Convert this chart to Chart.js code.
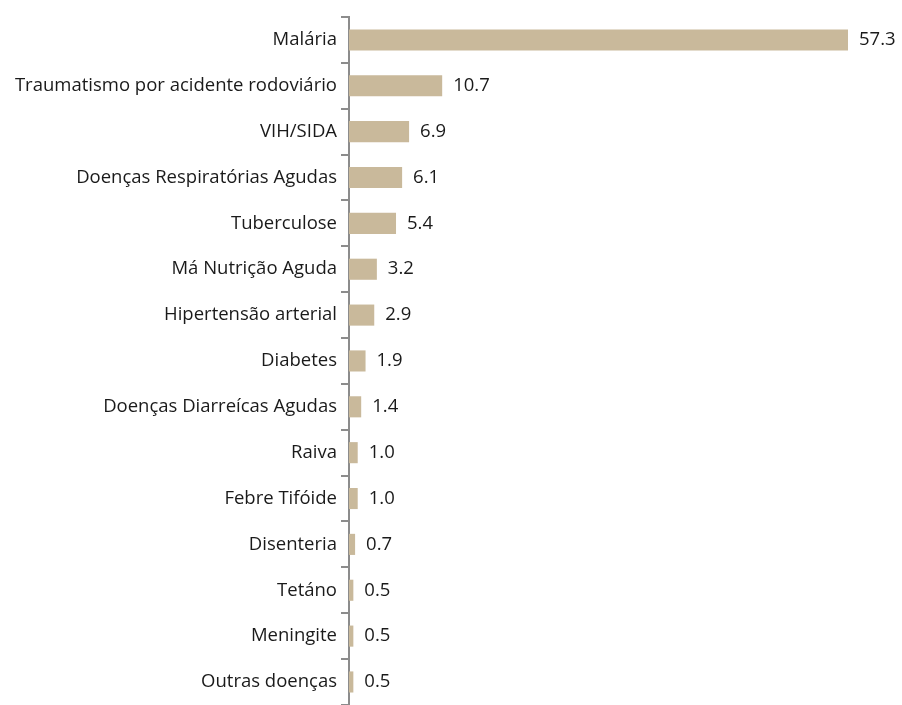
<!DOCTYPE html>
<html lang="pt">
<head>
    <meta charset="UTF-8">
    <title>Causas de morte</title>
    <script src="https://cdn.jsdelivr.net/npm/chart.js"></script>
    <style>
        html, body { margin: 0; padding: 0; background: #fff; overflow: hidden; }
        #wrap { width: 902px; height: 720px; }
    </style>
</head>
<body>
<div id="wrap"><canvas id="chart"></canvas></div>

<script>
    // values
    const causes = [
        "Malária", "Traumatismo por acidente rodoviário", "VIH/SIDA",
        "Doenças Respiratórias Agudas", "Tuberculose", "Má Nutrição Aguda",
        "Hipertensão arterial", "Diabetes", "Doenças Diarreícas Agudas",
        "Raiva", "Febre Tifóide", "Disenteria", "Tetáno", "Meningite", "Outras doenças"
    ];
    const percent = [57.3, 10.7, 6.9, 6.1, 5.4, 3.2, 2.9, 1.9, 1.4, 1.0, 1.0, 0.7, 0.5, 0.5, 0.5];

    const textFont = { family: "'Open Sans', sans-serif", size: 18.5 };

    // value labels at the end of each bar
    const valueLabels = {
        id: "valueLabels",
        afterDatasetsDraw(chart) {
            const ctx = chart.ctx;
            const meta = chart.getDatasetMeta(0);
            ctx.save();
            ctx.font = textFont.size + "px " + textFont.family;
            ctx.fillStyle = "#1a1a1a";
            ctx.textAlign = "left";
            ctx.textBaseline = "middle";
            meta.data.forEach((bar, i) => {
                ctx.fillText(percent[i].toFixed(1), bar.x + 11, bar.y);
            });
            ctx.restore();
        }
    };

    new Chart(document.getElementById("chart"), {
        type: "bar",
        data: {
            labels: causes,
            datasets: [{
                data: percent,
                backgroundColor: "#c9b99b",
                barPercentage: 0.46,
                categoryPercentage: 1
            }]
        },
        options: {
            indexAxis: "y",
            responsive: true,
            maintainAspectRatio: false,
            animation: false,
            layout: { padding: { top: 17, right: 54, left: 0, bottom: 0 } },
            plugins: {
                legend: { display: false },
                tooltip: { enabled: false }
            },
            scales: {
                x: {
                    display: false,
                    min: 0,
                    max: 57.3
                },
                y: {
                    afterFit(scale) { scale.width = 349; },
                    border: { display: true, color: "#8c8c8c", width: 2 },
                    grid: {
                        offset: true,
                        drawOnChartArea: false,
                        drawTicks: true,
                        tickLength: 8,
                        color: "#8c8c8c",
                        lineWidth: 2
                    },
                    ticks: {
                        color: "#1a1a1a",
                        font: textFont,
                        padding: 4
                    }
                }
            }
        },
        plugins: [valueLabels]
    });
</script>
</body>
</html>
